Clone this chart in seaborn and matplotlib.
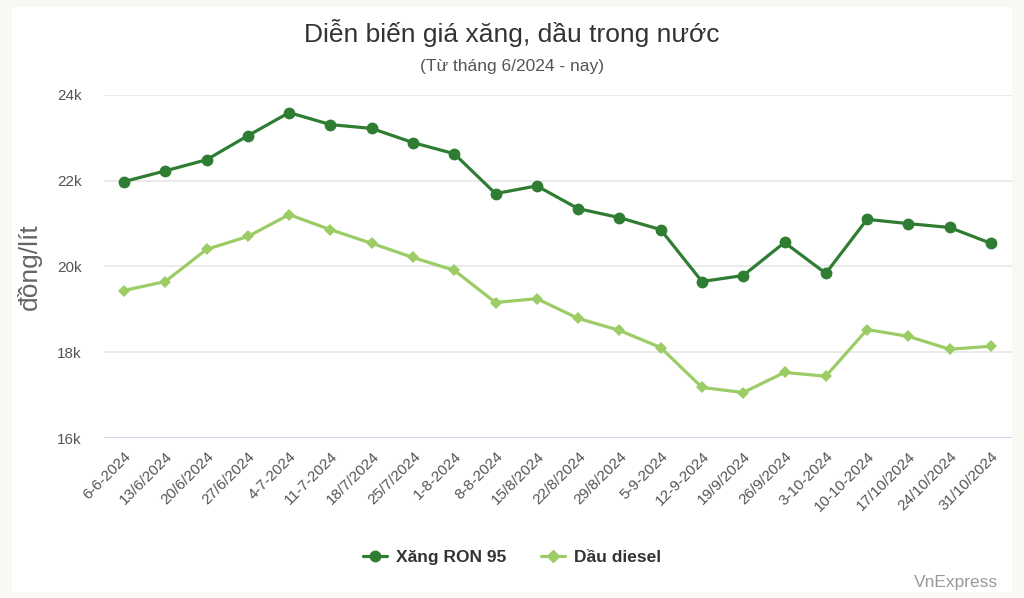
import pandas as pd
import matplotlib.pyplot as plt
import seaborn as sns
from matplotlib.patches import Rectangle

# Data
dates = ['6-6-2024', '13/6/2024', '20/6/2024', '27/6/2024', '4-7-2024', '11-7-2024',
         '18/7/2024', '25/7/2024', '1-8-2024', '8-8-2024', '15/8/2024', '22/8/2024',
         '29/8/2024', '5-9-2024', '12-9-2024', '19/9/2024', '26/9/2024', '3-10-2024',
         '10-10-2024', '17/10/2024', '24/10/2024', '31/10/2024']
ron95 = [21980, 22230, 22490, 23050, 23590, 23310, 23220, 22890, 22630, 21700, 21880,
         21350, 21140, 20860, 19650, 19790, 20560, 19840, 21100, 21000, 20910, 20540]
diesel = [19440, 19650, 20400, 20700, 21210, 20860, 20540, 20210, 19910, 19160, 19250,
          18790, 18510, 18110, 17180, 17060, 17530, 17440, 18530, 18370, 18070, 18140]
series_names = ['Xăng RON 95', 'Dầu diesel']
y_ticks = [16000, 18000, 20000, 22000, 24000]
y_tick_labels = ['16k', '18k', '20k', '22k', '24k']

df = pd.DataFrame({
    'idx': list(range(len(dates))) * 2,
    'price': ron95 + diesel,
    'series': [series_names[0]] * len(dates) + [series_names[1]] * len(dates),
})

sns.set_theme(style='white')
plt.rcParams['font.family'] = ['Liberation Sans', 'DejaVu Sans']

dark = '#2e7d32'
light = '#9ccc65'

fig = plt.figure(figsize=(10.24, 5.98), dpi=100)
fig.patch.set_facecolor('#f9f8f4')
# white card behind everything
fig.patches.append(Rectangle((12 / 1024, 6 / 598), 1000 / 1024, 585 / 598,
                             transform=fig.transFigure, facecolor='white',
                             edgecolor='none', zorder=-10))

ax = fig.add_axes([104 / 1024, 1 - 438 / 598, (1012 - 104) / 1024, (438 - 95) / 598])
ax.set_zorder(1)
ax.set_facecolor('white')

sns.lineplot(data=df, x='idx', y='price', hue='series', style='series',
             palette=[dark, light], markers=['o', 'D'], dashes=False,
             linewidth=2.3, markersize=8, markeredgewidth=0, ax=ax, legend=False)
# diamonds a bit smaller
for line, ms in zip(ax.lines, [8.5, 6.5]):
    line.set_markersize(ms)

ax.set_xlim(-0.484, len(dates) - 1 + 0.51)
ax.set_ylim(16000, 24000)
ax.set_yticks(y_ticks)
ax.set_yticklabels(y_tick_labels)
ax.set_xticks(range(len(dates)))
ax.set_xticklabels(dates, rotation=45, ha='right', rotation_mode='anchor')
ax.tick_params(axis='both', length=0, labelsize=11, labelcolor='#555555')
ax.tick_params(axis='y', pad=16)
ax.tick_params(axis='x', pad=8)

for v in y_ticks[1:]:
    ax.axhline(v, color='#e6e6e6', linewidth=1.2, zorder=0)
ax.axhline(16000, color='#ccd6eb', linewidth=1.5, zorder=0)
for s in ax.spines.values():
    s.set_visible(False)

ax.set_xlabel('')
ax.set_ylabel('đồng/lít', fontsize=19, color='#666666')
ax.yaxis.set_label_coords(-62 / 908, 0.5)

fig.text(0.5, 1 - 33 / 598, 'Diễn biến giá xăng, dầu trong nước', ha='center', va='center',
         fontsize=19, color='#333333')
fig.text(0.5, 1 - 66 / 598, '(Từ tháng 6/2024 - nay)', ha='center', va='center',
         fontsize=12.5, color='#555555')

# legend
handles = [plt.Line2D([], [], color=dark, marker='o', markersize=7.5, linewidth=2.3),
           plt.Line2D([], [], color=light, marker='D', markersize=6, linewidth=2.3)]
fig.legend(handles, series_names, loc='center', bbox_to_anchor=(0.5, 1 - 557 / 598),
           ncol=2, frameon=False, prop={'weight': 'bold', 'size': 12.5},
           handlelength=1.4, columnspacing=2.0, handletextpad=0.5, labelcolor='#333333')

fig.text(998 / 1024, 1 - 582 / 598, 'VnExpress', ha='right', va='center',
         fontsize=12.5, color='#999999')

fig.savefig('out.png', dpi=100, facecolor=fig.get_facecolor())
